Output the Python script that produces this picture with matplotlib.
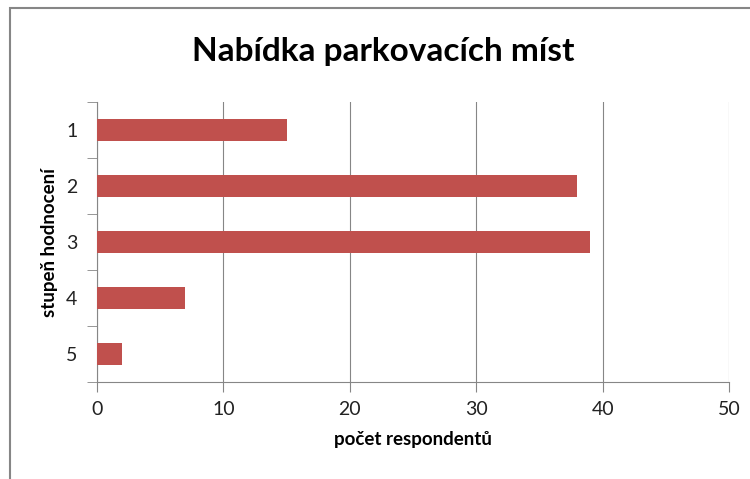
import matplotlib.pyplot as plt
from matplotlib.patches import Rectangle

categories = ['1', '2', '3', '4', '5']
counts = [15, 38, 39, 7, 2]
xticks = [0, 10, 20, 30, 40, 50]

plt.rcParams['font.family'] = ['Lato', 'DejaVu Sans']

fig = plt.figure(figsize=(7.5, 4.79), dpi=100)
ax = fig.add_axes([0.1293, 0.2025, 0.8427, 0.5845])

# frame around chart area (only left/top visible)
fig.patches.append(Rectangle((10 / 750, -0.1), 1.2, 1 - 8 / 479 + 0.1,
                             transform=fig.transFigure, fill=False,
                             edgecolor='#868686', linewidth=1.5))

pos = list(range(len(categories)))
ax.barh(pos, counts, height=0.4, color='#C0504D', zorder=3)
ax.set_ylim(len(categories) - 0.5, -0.5)
ax.set_xlim(0, 50)

ax.set_xticks(xticks)
ax.set_xticklabels([str(v) for v in xticks], fontsize=14, color='#222222')
ax.set_yticks(pos)
ax.set_yticklabels(categories, fontsize=14, color='#222222')
ax.tick_params(axis='y', length=0, pad=14)
ax.set_yticks([p + 0.5 for p in [-1] + pos], minor=True)
ax.tick_params(axis='y', which='minor', length=7, color='#868686')
ax.tick_params(axis='x', length=7, color='#868686', pad=7)

ax.grid(axis='x', color='#868686', linewidth=0.8, zorder=0)
for s in ['top', 'right']:
    ax.spines[s].set_visible(False)
for s in ['left', 'bottom']:
    ax.spines[s].set_color('#868686')

ax.set_xlabel('počet respondentů', fontsize=13.5, fontweight='bold', labelpad=9)
ax.set_ylabel('stupeň hodnocení', fontsize=13.5, fontweight='bold', labelpad=6)
fig.text(383 / 750, 1 - 52 / 479, 'Nabídka parkovacích míst', fontsize=24,
         fontweight='bold', ha='center', va='center')

fig.savefig('out.png', dpi=100)
